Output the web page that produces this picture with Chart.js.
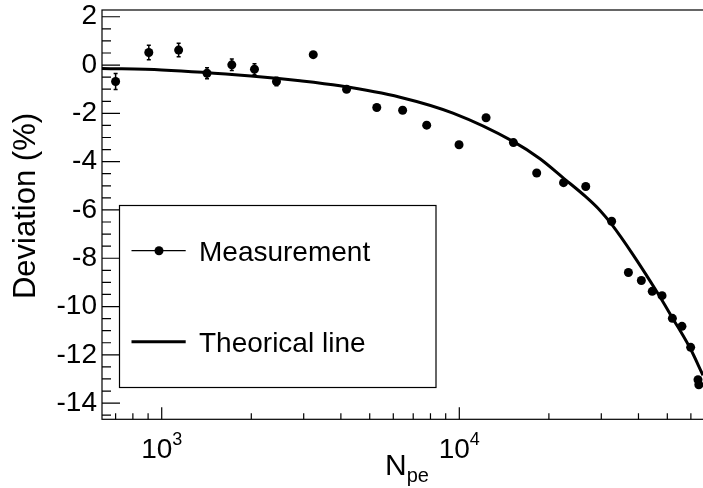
<!DOCTYPE html>
<html>
<head>
<meta charset="utf-8">
<script src="https://cdn.jsdelivr.net/npm/chart.js@4.4.0/dist/chart.umd.min.js"></script>
<style>
  html, body { margin: 0; padding: 0; background: #fff; }
  canvas { display: block; }
</style>
</head>
<body>
<canvas id="devChart" width="703" height="488"></canvas>
<script>
const npe = [700, 905, 1140, 1420, 1720, 2050, 2430, 3230, 4180, 5280, 6450, 7770,
    9980, 12300, 15200, 18200, 22400, 26600, 32500, 37000, 40900, 44500, 48000,
    52000, 56000, 59900, 63400, 63800];
const deviation = [-0.68, 0.52, 0.62, -0.34, 0.01, -0.17, -0.68, 0.43, -1.00, -1.76, -1.87, -2.49,
    -3.30, -2.18, -3.21, -4.47, -4.87, -5.03, -6.47, -8.59, -8.92, -9.37, -9.55,
    -10.49, -10.82, -11.69, -13.03, -13.24];
const deviationErr = [0.33, 0.30, 0.28, 0.23, 0.24, 0.22, 0.18, 0.1, 0.1, 0.1, 0.1, 0.1,
    0.1, 0.1, 0.1, 0.1, 0.1, 0.1, 0.1, 0.1, 0.1, 0.1, 0.1,
    0.1, 0.1, 0.1, 0.1, 0.1];

// Theoretical curve
const theoryNpe = [630, 1000, 1995, 2915, 3970, 6320, 9520, 15150, 18670, 22480, 26590, 29710,
    32520, 38430, 46060, 51730, 59620, 65900];
const theoryDev = [-0.14, -0.20, -0.45, -0.65, -0.86, -1.33, -1.99, -3.16, -3.88, -4.70, -5.45, -6.02,
    -6.60, -7.87, -9.38, -10.42, -11.72, -12.85];

// Axis ticks
const xTicks = [700, 800, 900, 1000, 2000, 3000, 4000, 5000, 6000, 7000, 8000, 9000,
    10000, 20000, 30000, 40000, 50000, 60000];
const xLabelTicks = [1000, 10000];
const yTicks = [-14.5, -14, -13.5, -13, -12.5, -12, -11.5, -11, -10.5, -10, -9.5, -9, -8.5, -8,
    -7.5, -7, -6.5, -6, -5.5, -5, -4.5, -4, -3.5, -3, -2.5, -2, -1.5, -1, -0.5, 0, 0.5, 1, 1.5, 2];

const FONT = '"Liberation Sans", Arial, Helvetica, sans-serif';

// ROOT-like frame, inward ticks, error bars, legend, axis titles
const rootStyle = {
    id: 'rootStyle',
    afterDatasetsDraw(chart) {
        const { ctx, chartArea: a, scales: { x, y } } = chart;
        ctx.save();
        ctx.strokeStyle = '#000';
        ctx.fillStyle = '#000';

        // error bars
        ctx.lineWidth = 1.5;
        npe.forEach((n, i) => {
            const px = x.getPixelForValue(n);
            const top = y.getPixelForValue(deviation[i] + deviationErr[i]);
            const bot = y.getPixelForValue(deviation[i] - deviationErr[i]);
            ctx.beginPath();
            ctx.moveTo(px, top); ctx.lineTo(px, bot);
            ctx.moveTo(px - 2, top); ctx.lineTo(px + 2, top);
            ctx.moveTo(px - 2, bot); ctx.lineTo(px + 2, bot);
            ctx.stroke();
        });

        // frame (right side falls just outside the canvas, as in the original)
        ctx.lineWidth = 1.2;
        ctx.strokeRect(a.left, a.top, a.right - a.left + 3, a.bottom - a.top);

        // y ticks
        ctx.beginPath();
        yTicks.forEach(v => {
            const py = y.getPixelForValue(v);
            const len = v % 2 === 0 ? 18 : 9;
            ctx.moveTo(a.left, py); ctx.lineTo(a.left + len, py);
        });
        // x ticks
        xTicks.forEach(v => {
            const px = x.getPixelForValue(v);
            const len = xLabelTicks.includes(v) ? 12 : 6;
            ctx.moveTo(px, a.bottom); ctx.lineTo(px, a.bottom - len);
        });
        ctx.stroke();

        // x tick labels 10^n
        ctx.textBaseline = 'alphabetic';
        ctx.textAlign = 'left';
        xLabelTicks.forEach(v => {
            const px = x.getPixelForValue(v);
            const exp = String(Math.round(Math.log10(v)));
            ctx.font = '28px ' + FONT;
            const w1 = ctx.measureText('10').width;
            ctx.font = '18px ' + FONT;
            const w2 = ctx.measureText(exp).width;
            const x0 = px - (w1 + w2) / 2;
            ctx.font = '28px ' + FONT;
            ctx.fillText('10', x0, a.bottom + 39);
            ctx.font = '18px ' + FONT;
            ctx.fillText(exp, x0 + w1, a.bottom + 26);
        });

        // x title N_pe
        ctx.font = '30px ' + FONT;
        ctx.fillText('N', 385, 475);
        const wn = ctx.measureText('N').width;
        ctx.font = '20px ' + FONT;
        ctx.fillText('pe', 385 + wn, 482);

        // y title
        ctx.save();
        ctx.translate(35, 206);
        ctx.rotate(-Math.PI / 2);
        ctx.textAlign = 'center';
        ctx.font = '31px ' + FONT;
        ctx.fillText('Deviation (%)', 0, 0);
        ctx.restore();

        // legend
        ctx.fillStyle = '#fff';
        ctx.fillRect(119.5, 205.5, 316.5, 182);
        ctx.lineWidth = 1.2;
        ctx.strokeRect(119.5, 205.5, 316.5, 182);
        ctx.fillStyle = '#000';
        ctx.lineWidth = 1.3;
        ctx.beginPath();
        ctx.moveTo(131.5, 250.7); ctx.lineTo(185.7, 250.7);
        ctx.stroke();
        ctx.beginPath();
        ctx.arc(159, 250.7, 4.5, 0, Math.PI * 2);
        ctx.fill();
        ctx.lineWidth = 3;
        ctx.beginPath();
        ctx.moveTo(131.5, 341.7); ctx.lineTo(185.7, 341.7);
        ctx.stroke();
        ctx.font = '28px ' + FONT;
        ctx.textAlign = 'left';
        ctx.fillText('Measurement', 199, 260.5);
        ctx.fillText('Theorical line', 199, 352);

        ctx.restore();
    }
};

const ctx = document.getElementById('devChart').getContext('2d');
const devChart = new Chart(ctx, {
    type: 'scatter',
    data: {
        datasets: [{
            label: 'Measurement',
            data: npe.map((n, i) => ({ x: n, y: deviation[i] })),
            pointRadius: 4.5,
            pointBackgroundColor: '#000',
            pointBorderWidth: 0,
            showLine: false,
            clip: false,
            order: 0
        }, {
            label: 'Theorical line',
            data: theoryNpe.map((n, i) => ({ x: n, y: theoryDev[i] })),
            showLine: true,
            borderColor: '#000',
            borderWidth: 3,
            pointRadius: 0,
            cubicInterpolationMode: 'monotone',
            order: 1
        }]
    },
    options: {
        responsive: false,
        animation: false,
        events: [],
        layout: { autoPadding: false, padding: { top: 10, left: 0, right: 0, bottom: 0 } },
        plugins: {
            legend: { display: false },
            tooltip: { enabled: false }
        },
        scales: {
            x: {
                type: 'logarithmic',
                min: 630,
                max: 65900,
                afterBuildTicks: s => { s.ticks = xTicks.map(v => ({ value: v })); },
                ticks: { display: false },
                grid: { display: false, drawTicks: false },
                border: { display: false },
                afterFit: s => { s.height = 68.7; s.paddingLeft = 0; s.paddingRight = 0; }
            },
            y: {
                min: -14.67,
                max: 2.28,
                afterBuildTicks: s => { s.ticks = yTicks.map(v => ({ value: v })); },
                ticks: {
                    autoSkip: false,
                    padding: 5,
                    color: '#000',
                    font: { family: FONT, size: 28 },
                    callback: v => (v % 2 === 0 ? String(v) : '')
                },
                grid: { display: false, drawTicks: false },
                border: { display: false },
                afterFit: s => { s.width = 102; s.paddingTop = 0; s.paddingBottom = 0; }
            }
        }
    },
    plugins: [rootStyle]
});
</script>
</body>
</html>
